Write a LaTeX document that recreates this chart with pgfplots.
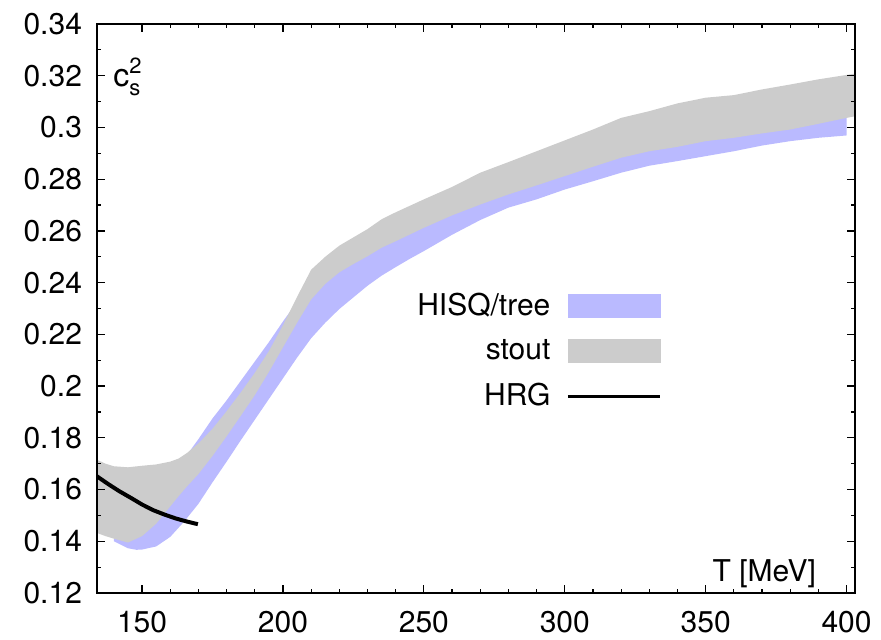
\documentclass[border=0pt]{standalone}
\usepackage{fontspec}
\setmainfont{TeX Gyre Heros}
\usepackage{pgfplots}
\pgfplotsset{compat=1.18}
\usepackage{pgfplotstable}
\usepgfplotslibrary{fillbetween}

\definecolor{hisqc}{RGB}{186,186,255}
\definecolor{stoutc}{RGB}{204,204,204}

% HISQ/tree band: T, lower, upper
\pgfplotstableread{
T lo hi
140 0.1400 0.1650
145 0.1373 0.1650
148 0.1367 0.1655
150 0.1368 0.1660
155 0.1380 0.1665
160 0.1417 0.1680
165 0.1477 0.1720
170 0.1545 0.1795
175 0.1628 0.1875
180 0.1708 0.1945
185 0.1790 0.2020
190 0.1870 0.2095
195 0.1950 0.2170
200 0.2030 0.2250
205 0.2110 0.2325
210 0.2185 0.2380
215 0.2245 0.2420
220 0.2298 0.2465
225 0.2343 0.2500
230 0.2388 0.2530
235 0.2427 0.2560
240 0.2460 0.2590
245 0.2492 0.2615
250 0.2522 0.2640
260 0.2585 0.2690
270 0.2642 0.2730
280 0.2690 0.2770
290 0.2722 0.2805
300 0.2760 0.2840
310 0.2792 0.2875
320 0.2825 0.2910
330 0.2852 0.2935
340 0.2870 0.2952
350 0.2889 0.2972
360 0.2908 0.2985
370 0.2930 0.3002
380 0.2947 0.3017
390 0.2960 0.3038
400 0.2969 0.3060
}\hisq

% stout band: T, lower, upper
\pgfplotstableread{
T lo hi
132 0.1440 0.1725
134 0.1432 0.1715
137 0.1420 0.1700
140 0.1410 0.1690
145 0.1395 0.1686
150 0.1420 0.1692
155 0.1468 0.1697
160 0.1535 0.1708
163 0.1575 0.1720
166 0.1613 0.1742
170 0.1660 0.1778
175 0.1730 0.1835
180 0.1806 0.1903
185 0.1885 0.1975
190 0.1965 0.2051
195 0.2055 0.2135
200 0.2150 0.2235
205 0.2245 0.2345
210 0.2335 0.2450
215 0.2395 0.2500
220 0.2440 0.2543
225 0.2472 0.2575
230 0.2502 0.2607
235 0.2535 0.2645
240 0.2560 0.2672
245 0.2586 0.2697
250 0.2612 0.2722
260 0.2660 0.2770
270 0.2702 0.2825
280 0.2741 0.2866
290 0.2776 0.2908
300 0.2812 0.2950
310 0.2848 0.2992
320 0.2883 0.3037
330 0.2908 0.3063
340 0.2925 0.3093
350 0.2947 0.3115
360 0.2960 0.3125
370 0.2977 0.3147
380 0.2992 0.3166
390 0.3014 0.3186
400 0.3037 0.3203
405 0.3047 0.3212
}\stout

% HRG curve
\pgfplotstableread{
T cs
134 0.1651
138 0.1621
142 0.1593
146 0.1568
150 0.1542
154 0.1520
158 0.1503
162 0.1488
166 0.1476
169.8 0.1466
}\hrg

\begin{document}
\begin{tikzpicture}
\begin{axis}[
  scale only axis,
  width=379pt, height=284.5pt,
  xmin=134, xmax=403,
  ymin=0.12, ymax=0.34,
  xtick={150,200,...,400},
  minor x tick num=4,
  ytick={0.12,0.14,...,0.341},
  minor y tick num=1,
  yticklabel style={/pgf/number format/fixed, /pgf/number format/precision=2, xshift=-4pt},
  xticklabel style={yshift=-5.5pt},
  /pgf/number format/assume math mode=true,
  tick label style={font=\fontsize{15}{18}\selectfont},
  major tick length=4pt,
  minor tick length=2pt,
  tick style={line width=0.6pt, black},
  axis line style={line width=1pt},
  axis on top,
  legend style={draw=none, fill=none, at={(axis cs:334.5,0.2377)}, anchor=north east,
    inner sep=0pt, row sep=6.5pt, column sep=6pt, font=\fontsize{15}{18}\selectfont},
  legend cell align=right,
  legend plot pos=right,
]
\addplot[name path=hl, draw=none, forget plot] table[x=T, y=lo] {\hisq};
\addplot[name path=hu, draw=none, forget plot] table[x=T, y=hi] {\hisq};
\addplot[fill=hisqc, draw=none, forget plot] fill between[of=hu and hl];

\addplot[name path=sl, draw=none, forget plot] table[x=T, y=lo] {\stout};
\addplot[name path=su, draw=none, forget plot] table[x=T, y=hi] {\stout};
\addplot[fill=stoutc, draw=none, forget plot] fill between[of=su and sl];

\addplot[black, line width=2pt, forget plot] table[x=T, y=cs] {\hrg};

\addlegendimage{legend image code/.code={\fill[hisqc] (0pt,-5.75pt) rectangle (46pt,5.75pt);}}
\addlegendentry{HISQ/tree}
\addlegendimage{legend image code/.code={\fill[stoutc] (0pt,-5.75pt) rectangle (46pt,5.75pt);}}
\addlegendentry{stout}
\addlegendimage{legend image code/.code={\draw[black, line width=1.6pt] (0pt,0pt) -- (46pt,0pt);}}
\addlegendentry{HRG}

\node[anchor=base west, inner sep=0pt] at (axis cs:139.7,0.3159)
  {\fontsize{16}{18}\selectfont c\fontsize{11}{12}\selectfont\rlap{\raisebox{-4.8pt}{s}}\raisebox{6.5pt}{2}};
\node[anchor=base east, inner sep=0pt, font=\fontsize{15}{18}\selectfont] at (axis cs:389.3,0.1244) {T [MeV]};
\end{axis}
\pgfresetboundingbox
\path[use as bounding box] ([xshift=-48.5pt,yshift=-23.5pt]current axis.south west)
  rectangle ([xshift=13pt,yshift=12pt]current axis.north east);
\end{tikzpicture}
\end{document}
